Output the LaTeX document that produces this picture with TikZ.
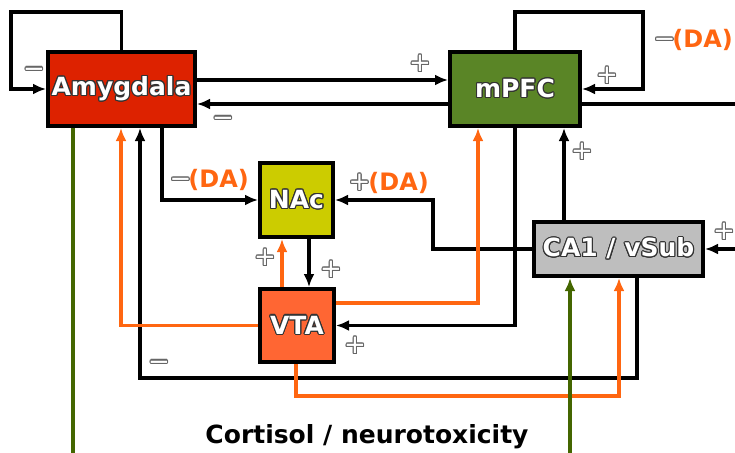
\documentclass[tikz,border=0pt]{standalone}
\usepackage{fontspec}
\setmainfont{DejaVu Sans}
\usepackage{contour}
\contourlength{1.1pt}
\usetikzlibrary{arrows.meta}
\definecolor{AmyRed}{HTML}{DD2200}
\definecolor{PfcGreen}{HTML}{5A8526}
\definecolor{NacYellow}{HTML}{CCCC00}
\definecolor{SubGray}{HTML}{BEBEBE}
\definecolor{VtaOrange}{HTML}{FF6633}
\definecolor{DaOrange}{HTML}{FF6611}
\definecolor{CortGreen}{HTML}{446600}
\definecolor{SignGray}{HTML}{666666}
\newcommand{\boxlabel}[1]{\contour{black!80}{\textcolor{white}{#1}}}
\newcommand{\signlabel}[1]{\contour{SignGray}{\textcolor{white}{#1}}}
\begin{document}
\begin{tikzpicture}[
  x=1pt,y=-1pt,
  every node/.style={font=\bfseries\fontsize{25}{29}\selectfont},
  region/.style={draw=black,line width=3.8pt,inner sep=0pt},
  sign/.style={inner sep=0pt,font=\fontsize{26}{30}\selectfont},
  da/.style={inner sep=0pt,anchor=east,text=DaOrange,font=\bfseries\fontsize{24}{28}\selectfont},
  arr/.style={-{Latex[length=13pt,width=11pt]},line width=3.3pt,color=black},
  plain/.style={line width=3.3pt,color=black},
  oarr/.style={-{Latex[length=13pt,width=11pt]},line width=3.3pt,color=DaOrange},
  garr/.style={-{Latex[length=13pt,width=11pt]},line width=3.3pt,color=CortGreen},
  gline/.style={line width=3.3pt,color=CortGreen}
]
\useasboundingbox (0,0) rectangle (735,452);
% regions
\node[region,fill=AmyRed,minimum width=147.2pt,minimum height=74.2pt] (amygdala) at (121.5,89) {\boxlabel{Amygdala}};
\node[region,fill=PfcGreen,minimum width=130.2pt,minimum height=74.2pt] (mpfc) at (515,89) {\boxlabel{mPFC}};
\node[region,fill=NacYellow,minimum width=73.2pt,minimum height=74.2pt] (nac) at (296.5,200) {\boxlabel{NAc}};
\node[region,fill=SubGray,minimum width=169.2pt,minimum height=54.2pt] (ca1) at (618.5,249) {\boxlabel{CA1 / vSub}};
\node[region,fill=VtaOrange,minimum width=74.2pt,minimum height=73.2pt] (vta) at (297,325.5) {\boxlabel{VTA}};
% black pathways
\draw[arr] (amygdala.north) |- (11,12) |- (amygdala.west);
\draw[arr] (mpfc.north) |- (643,12) |- (mpfc.east);
\draw[arr] (amygdala.east |- 0,80) -- (mpfc.west |- 0,80);
\draw[arr] (mpfc.west |- 0,104) -- (amygdala.east |- 0,104);
\draw[plain] (mpfc.east |- 0,104) -- (740,104);
\draw[arr] (740,249) -- (ca1.east);
\draw[arr] (ca1.north -| 564,0) -- (mpfc.south -| 564,0);
\draw[arr] (ca1.west) -| (433,200) -- (nac.east);
\draw[arr] (amygdala.south -| 162,0) |- (nac.west);
\draw[arr] (nac.south -| 309,0) -- (vta.north -| 309,0);
\draw[arr] (mpfc.south) |- (vta.east);
\draw[arr] (ca1.south -| 637,0) |- (140,378) -- (amygdala.south -| 140,0);
% dopamine pathways
\draw[oarr] (vta.north -| 282,0) -- (nac.south -| 282,0);
\draw[oarr] (vta.east |- 0,303) -| (mpfc.south -| 478,0);
\draw[oarr] (vta.west) -| (amygdala.south -| 121,0);
\draw[oarr] (vta.south -| 296,0) |- (619,396) -- (ca1.south -| 619,0);
% cortisol
\draw[gline] (amygdala.south -| 73,0) -- (73,460);
\draw[garr] (570,460) -- (ca1.south -| 570,0);
% signs
\node[sign] (amyloop) at (34,73) {\signlabel{−}};
\node[sign] (amypfc) at (420,64) {\signlabel{+}};
\node[sign] (pfcamy) at (223,122) {\signlabel{−}};
\node[sign] (pfcloop) at (607,76) {\signlabel{+}};
\node[da] (pfcda) at (733,40) {\signlabel{\fontsize{26}{30}\mdseries−}\kern-3pt(DA)};
\node[da] (amynac) at (249,180) {\signlabel{\fontsize{26}{30}\mdseries−}\kern-3pt(DA)};
\node[da] (subnac) at (429,183) {\signlabel{\fontsize{26}{30}\mdseries+}\kern-2pt(DA)};
\node[sign] (subpfc) at (582,152) {\signlabel{+}};
\node[sign] (insub) at (724,232) {\signlabel{+}};
\node[sign] (vtanac) at (265,258) {\signlabel{+}};
\node[sign] (nacvta) at (331,270) {\signlabel{+}};
\node[sign] (pfcvta) at (355,346) {\signlabel{+}};
\node[sign] (subamy) at (159,366) {\signlabel{−}};
\node (cortisol) at (367,437) {Cortisol / neurotoxicity};
\end{tikzpicture}
\end{document}
